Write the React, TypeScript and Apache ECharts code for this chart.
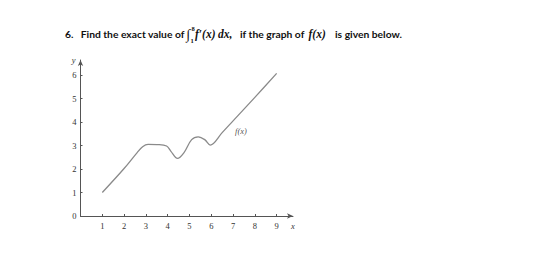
import React, { useEffect, useRef } from "react";
import * as echarts from "echarts";

const xs = [1, 2, 2.6, 2.85, 3.1, 3.5, 3.95, 4.15, 4.45, 4.75, 5.1, 5.4, 5.7, 5.95, 6.5, 7, 8, 9];
const ys = [1, 2.02, 2.7, 2.95, 3.05, 3.04, 2.98, 2.75, 2.45, 2.7, 3.25, 3.37, 3.25, 3.02, 3.55, 4.05, 5.05, 6.07];
const xTicks = [1, 2, 3, 4, 5, 6, 7, 8, 9];
const yTicks = [0, 1, 2, 3, 4, 5, 6];
const fLabelPos = [7.36, 3.62];

const serif = "Liberation Serif, DejaVu Serif, serif";
const sans = "Lato, Liberation Sans, sans-serif";

export default function App() {
  const ref = useRef<HTMLDivElement>(null);
  useEffect(() => {
    const chart = echarts.init(ref.current!, null, { renderer: "svg" });
    const titleY = 34;
    const t = (x: number, text: string, font: any) => ({
      type: "text",
      x,
      y: titleY,
      style: { text, fill: "#111", verticalAlign: "middle", ...font },
    });
    const bold = { fontFamily: sans, fontWeight: "bold", fontSize: 10.3 };
    const math = { fontFamily: serif, fontStyle: "italic", fontWeight: "bold", fontSize: 11.5 };
    chart.setOption({
      animation: false,
      grid: { left: 80.5, right: 267, top: 60, bottom: 43 },
      xAxis: {
        type: "value",
        min: 0,
        max: 9.75,
        interval: 1,
        splitLine: { show: false },
        axisLine: { lineStyle: { color: "#555", width: 1 }, symbol: ["none", "arrow"], symbolSize: [4, 6] },
        axisTick: { show: true, inside: true, length: 2, lineStyle: { color: "#555" }, customValues: xTicks },
        axisLabel: { customValues: xTicks, fontFamily: serif, fontSize: 8.5, color: "#333", margin: 5 },
        name: "x",
        nameLocation: "end",
        nameGap: 0,
        nameTextStyle: { fontFamily: serif, fontStyle: "italic", fontSize: 8.5, color: "#333", align: "center", verticalAlign: "top", padding: [5, 0, 0, 0] },
      },
      yAxis: {
        type: "value",
        min: 0,
        max: 6.64,
        interval: 1,
        splitLine: { show: false },
        axisLine: { show: true, lineStyle: { color: "#555", width: 1 }, symbol: ["none", "arrow"], symbolSize: [4, 6] },
        axisTick: { show: true, inside: true, length: 2, lineStyle: { color: "#555" }, customValues: yTicks },
        axisLabel: { customValues: yTicks, fontFamily: serif, fontSize: 8.5, color: "#333", margin: 4 },
        name: "y",
        nameLocation: "end",
        nameGap: 0,
        nameTextStyle: { fontFamily: serif, fontStyle: "italic", fontSize: 8.5, color: "#333", align: "right", verticalAlign: "middle", padding: [0, 5, 0, 0] },
      },
      series: [
        {
          type: "line",
          data: xs.map((x, i) => [x, ys[i]]),
          smooth: 0.35,
          showSymbol: false,
          lineStyle: { color: "#8a8a8a", width: 1.3 },
        },
        {
          type: "scatter",
          data: [fLabelPos],
          symbolSize: 0,
          label: {
            show: true,
            formatter: "f(x)",
            position: "inside",
            fontFamily: serif,
            fontStyle: "italic",
            fontSize: 8.5,
            color: "#222",
          },
        },
      ],
      graphic: [
        t(65, "6.", bold),
        t(80.7, "Find the exact value of", bold),
        { type: "text", x: 186.5, y: 34, style: { text: "∫", fontFamily: serif, fontSize: 14, fill: "#111", verticalAlign: "middle" } },
        { type: "text", x: 191.5, y: 28.5, style: { text: "8", fontFamily: serif, fontWeight: "bold", fontSize: 6.5, fill: "#111", verticalAlign: "middle" } },
        { type: "text", x: 190.5, y: 40, style: { text: "1", fontFamily: serif, fontWeight: "bold", fontSize: 6.5, fill: "#111", verticalAlign: "middle" } },
        t(195, "f′(x)", math),
        t(218, "dx,", math),
        t(240, "if the graph of", bold),
        t(308.5, "f(x)", math),
        t(335, "is given below.", bold),
      ],
    });
    return () => chart.dispose();
  }, []);
  return <div ref={ref} style={{ width: 560, height: 259, position: "absolute", left: 0, top: 0 }} />;
}
